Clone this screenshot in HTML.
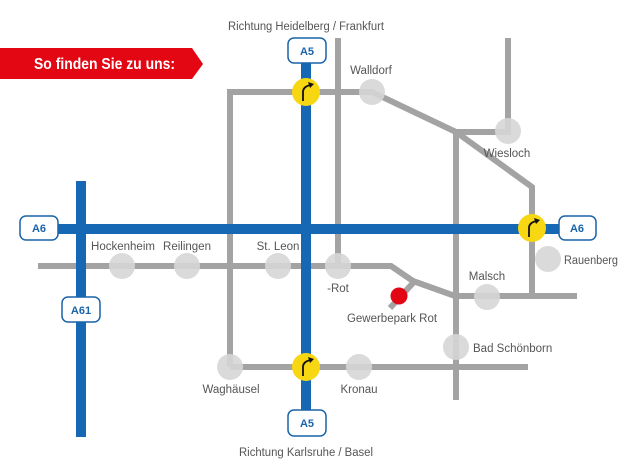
<!DOCTYPE html>
<html><head><meta charset="utf-8"><style>
html,body{margin:0;padding:0;background:#fff;}
svg{display:block;}
text{font-family:"Liberation Sans",sans-serif;}
.l{font-size:11.5px;fill:#555;}
.b{font-size:11px;font-weight:bold;fill:#1a64a8;text-anchor:middle;}
</style></head><body>
<svg width="620" height="473" viewBox="0 0 620 473" xmlns="http://www.w3.org/2000/svg">
<rect width="620" height="473" fill="#fff"/>
<polygon points="0,48 192,48 203,64 192,79 0,79" fill="#e30613"/>
<text x="34" y="69" font-size="16" font-weight="bold" fill="#fff" textLength="141" lengthAdjust="spacingAndGlyphs">So finden Sie zu uns:</text>
<g stroke="#a3a3a3" stroke-width="6" fill="none" stroke-linejoin="miter">
<polyline points="230,367 230,92 372,92 456,132 532,187 532,296"/>
<polyline points="456,132 508,132 508,38"/>
<line x1="456" y1="132" x2="456" y2="400"/>
<line x1="338" y1="38" x2="338" y2="268"/>
<polyline points="230,367 528,367"/>
<polyline points="38,266 391,266 413,281 455,296 577,296"/>
<line x1="413" y1="283" x2="390" y2="308"/>
</g>
<g stroke="#1668b4" stroke-width="10">
<line x1="306" y1="60" x2="306" y2="412"/>
<line x1="40" y1="229" x2="562" y2="229"/>
<line x1="81" y1="181" x2="81" y2="437"/>
</g>
<g fill="#d6d6d6" opacity="0.9">
<circle cx="372" cy="92" r="13"/>
<circle cx="508" cy="131" r="13"/>
<circle cx="122" cy="266" r="13"/>
<circle cx="187" cy="266" r="13"/>
<circle cx="278" cy="266" r="13"/>
<circle cx="338" cy="266" r="13"/>
<circle cx="487" cy="297" r="13"/>
<circle cx="548" cy="259" r="13"/>
<circle cx="456" cy="347" r="13"/>
<circle cx="230" cy="367" r="13"/>
<circle cx="359" cy="367" r="13"/>
</g>
<circle cx="399" cy="296" r="8.5" fill="#e30613"/>
<g>
<g transform="translate(306,92)"><circle r="14" fill="#f7d712"/><path d="M-3,9 V-1 Q-2,-6 5,-7" stroke="#111" stroke-width="1.8" fill="none"/><polygon points="8,-8 2,-10 4,-4" fill="#111"/></g>
<g transform="translate(532,228)"><circle r="14" fill="#f7d712"/><path d="M-3,9 V-1 Q-2,-6 5,-7" stroke="#111" stroke-width="1.8" fill="none"/><polygon points="8,-8 2,-10 4,-4" fill="#111"/></g>
<g transform="translate(306,367)"><circle r="14" fill="#f7d712"/><path d="M-3,9 V-1 Q-2,-6 5,-7" stroke="#111" stroke-width="1.8" fill="none"/><polygon points="8,-8 2,-10 4,-4" fill="#111"/></g>
</g>
<g fill="#fff" stroke="#1a64a8" stroke-width="1.5">
<rect x="288" y="38" width="38" height="25" rx="6"/>
<rect x="288" y="410" width="38" height="26" rx="6"/>
<rect x="20" y="216" width="38" height="24" rx="6"/>
<rect x="559" y="216" width="37" height="24" rx="6"/>
<rect x="62" y="297" width="38" height="25" rx="6"/>
</g>
<text class="b" x="307" y="55">A5</text>
<text class="b" x="307" y="427">A5</text>
<text class="b" x="39" y="232">A6</text>
<text class="b" x="577" y="232">A6</text>
<text class="b" x="81" y="314">A61</text>
<g class="l">
<text x="306" y="30" text-anchor="middle" textLength="156" lengthAdjust="spacingAndGlyphs">Richtung Heidelberg / Frankfurt</text>
<text x="306" y="456" text-anchor="middle" textLength="134" lengthAdjust="spacingAndGlyphs">Richtung Karlsruhe / Basel</text>
<text x="371" y="74" text-anchor="middle">Walldorf</text>
<text x="507" y="157" text-anchor="middle">Wiesloch</text>
<text x="123" y="250" text-anchor="middle">Hockenheim</text>
<text x="187" y="250" text-anchor="middle">Reilingen</text>
<text x="278" y="250" text-anchor="middle">St. Leon</text>
<text x="338" y="292" text-anchor="middle">-Rot</text>
<text x="392" y="322" text-anchor="middle">Gewerbepark Rot</text>
<text x="487" y="280" text-anchor="middle">Malsch</text>
<text x="564" y="264" textLength="54" lengthAdjust="spacingAndGlyphs">Rauenberg</text>
<text x="473" y="352">Bad Schönborn</text>
<text x="231" y="393" text-anchor="middle">Waghäusel</text>
<text x="359" y="393" text-anchor="middle">Kronau</text>
</g>
</svg>
</body></html>
